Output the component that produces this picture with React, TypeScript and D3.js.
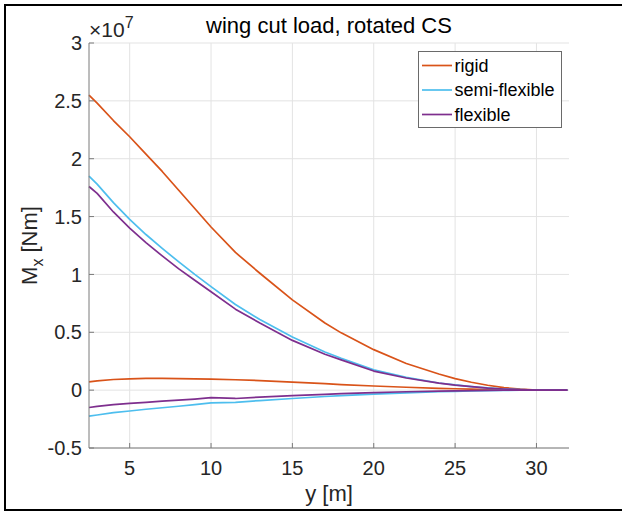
import React from "react";
import * as d3 from "d3";

// Spanwise stations [m]
const stations = [2.5, 3, 4, 5, 6, 7, 8, 9, 10, 11.5, 13, 15, 17, 18, 20, 22, 24, 25, 26, 27, 28, 29, 30, 31.9];

// Bending moment Mx [1e7 Nm], upper and lower envelopes per configuration
const rigidUpper = [2.55, 2.48, 2.33, 2.19, 2.04, 1.89, 1.73, 1.57, 1.41, 1.19, 1.01, 0.78, 0.58, 0.495, 0.35, 0.23, 0.14, 0.1, 0.068, 0.042, 0.022, 0.008, 0, 0];
const rigidLower = [0.072, 0.08, 0.092, 0.098, 0.101, 0.102, 0.1, 0.097, 0.095, 0.09, 0.083, 0.07, 0.056, 0.048, 0.036, 0.025, 0.016, 0.012, 0.008, 0.005, 0.003, 0.001, 0, 0];
const semiUpper = [1.85, 1.78, 1.62, 1.475, 1.345, 1.225, 1.11, 1.0, 0.895, 0.74, 0.61, 0.46, 0.33, 0.275, 0.175, 0.11, 0.062, 0.045, 0.031, 0.019, 0.01, 0.004, 0, 0];
const semiLower = [-0.225, -0.215, -0.195, -0.18, -0.165, -0.152, -0.139, -0.125, -0.11, -0.105, -0.09, -0.072, -0.055, -0.047, -0.035, -0.023, -0.014, -0.01, -0.007, -0.004, -0.002, -0.001, 0, 0];
const flexUpper = [1.76, 1.7, 1.54, 1.4, 1.275, 1.16, 1.05, 0.95, 0.85, 0.7, 0.58, 0.43, 0.31, 0.262, 0.165, 0.105, 0.06, 0.043, 0.03, 0.018, 0.01, 0.004, 0, 0];
const flexLower = [-0.15, -0.14, -0.125, -0.115, -0.105, -0.095, -0.087, -0.077, -0.065, -0.072, -0.06, -0.048, -0.036, -0.03, -0.022, -0.014, -0.008, -0.006, -0.004, -0.002, -0.001, 0, 0, 0];

const seriesNames = ["rigid", "semi-flexible", "flexible"];
const seriesColors = ["#D95319", "#4DBEEE", "#7E2F8E"];
const seriesData = [
  [rigidUpper, rigidLower],
  [semiUpper, semiLower],
  [flexUpper, flexLower],
];

const xTicks = [5, 10, 15, 20, 25, 30];
const yTicks = [-0.5, 0, 0.5, 1, 1.5, 2, 2.5, 3];
const yTickLabels = ["-0.5", "0", "0.5", "1", "1.5", "2", "2.5", "3"];

const W = 622;
const H = 511;
const left = 89;
const right = 569;
const top = 43;
const bottom = 448;
const FONT = "'Liberation Sans', Arial, Helvetica, sans-serif";
const TEXT = "#262626";

export default function App() {
  const x = d3.scaleLinear().domain([2.5, 32]).range([left, right]);
  const y = d3.scaleLinear().domain([-0.5, 3]).range([bottom, top]);
  const line = d3
    .line<number>()
    .x((_, i) => x(stations[i]))
    .y((d) => y(d));

  const legX = 418.5;
  const legY = 51.5;
  const legW = 143;
  const legH = 76;
  const rowY = [65.5, 90, 114.5];

  return (
    <svg
      width={W}
      height={H}
      style={{ position: "absolute", left: 0, top: 0, background: "#fff" }}
      fontFamily={FONT}
    >
      <rect x={0} y={0} width={W} height={H} fill="#fff" />
      {/* grid */}
      <g stroke="#e3e3e3" strokeWidth={1}>
        {xTicks.map((t) => (
          <line key={"gx" + t} x1={x(t)} x2={x(t)} y1={top} y2={bottom} />
        ))}
        {yTicks.map((t) => (
          <line key={"gy" + t} x1={left} x2={right} y1={y(t)} y2={y(t)} />
        ))}
      </g>
      {/* data */}
      <g fill="none" strokeWidth={1.7} strokeLinejoin="round">
        {seriesData.map((pair, si) =>
          pair.map((vals, k) => (
            <path key={si + "-" + k} d={line(vals) || ""} stroke={seriesColors[si]} />
          ))
        )}
      </g>
      {/* axes */}
      <g stroke="#7a7a7a" strokeWidth={1}>
        <line x1={left} x2={left} y1={top} y2={bottom} />
        <line x1={left} x2={right} y1={bottom} y2={bottom} />
        {xTicks.map((t) => (
          <line key={"tx" + t} x1={x(t)} x2={x(t)} y1={bottom} y2={bottom - 5} />
        ))}
        {yTicks.map((t) => (
          <line key={"ty" + t} x1={left} x2={left + 5} y1={y(t)} y2={y(t)} />
        ))}
      </g>
      {/* tick labels */}
      <g fill={TEXT} fontSize={20}>
        {xTicks.map((t) => (
          <text key={"lx" + t} x={x(t)} y={bottom + 27} textAnchor="middle">
            {t}
          </text>
        ))}
        {yTicks.map((t, i) => (
          <text key={"ly" + t} x={left - 7} y={y(t)} dy="0.36em" textAnchor="end">
            {yTickLabels[i]}
          </text>
        ))}
        <text x={left} y={37} fontSize={21}>
          ×10
          <tspan fontSize={16} dy={-9}>
            7
          </tspan>
        </text>
      </g>
      {/* labels */}
      <text x={(left + right) / 2} y={33} textAnchor="middle" fontSize={22} fill="#000">
        wing cut load, rotated CS
      </text>
      <text x={(left + right) / 2} y={501} textAnchor="middle" fontSize={22} fill={TEXT}>
        y [m]
      </text>
      <text
        transform={`translate(37, ${(top + bottom) / 2}) rotate(-90)`}
        textAnchor="middle"
        fontSize={22}
        fill={TEXT}
      >
        M
        <tspan fontSize={16} dy={6}>
          x
        </tspan>
        <tspan dy={-6}> [Nm]</tspan>
      </text>
      {/* legend */}
      <rect x={legX} y={legY} width={legW} height={legH} fill="#fff" stroke="#6a6a6a" strokeWidth={1} />
      {seriesNames.map((name, i) => (
        <g key={name}>
          <line x1={422} x2={452} y1={rowY[i]} y2={rowY[i]} stroke={seriesColors[i]} strokeWidth={1.7} />
          <text x={454.5} y={rowY[i]} dy="0.36em" fontSize={18} fill="#000">
            {name}
          </text>
        </g>
      ))}
      {/* figure frame */}
      <rect x={5} y={5} width={W + 10} height={505} fill="none" stroke="#000" strokeWidth={2} />
    </svg>
  );
}
